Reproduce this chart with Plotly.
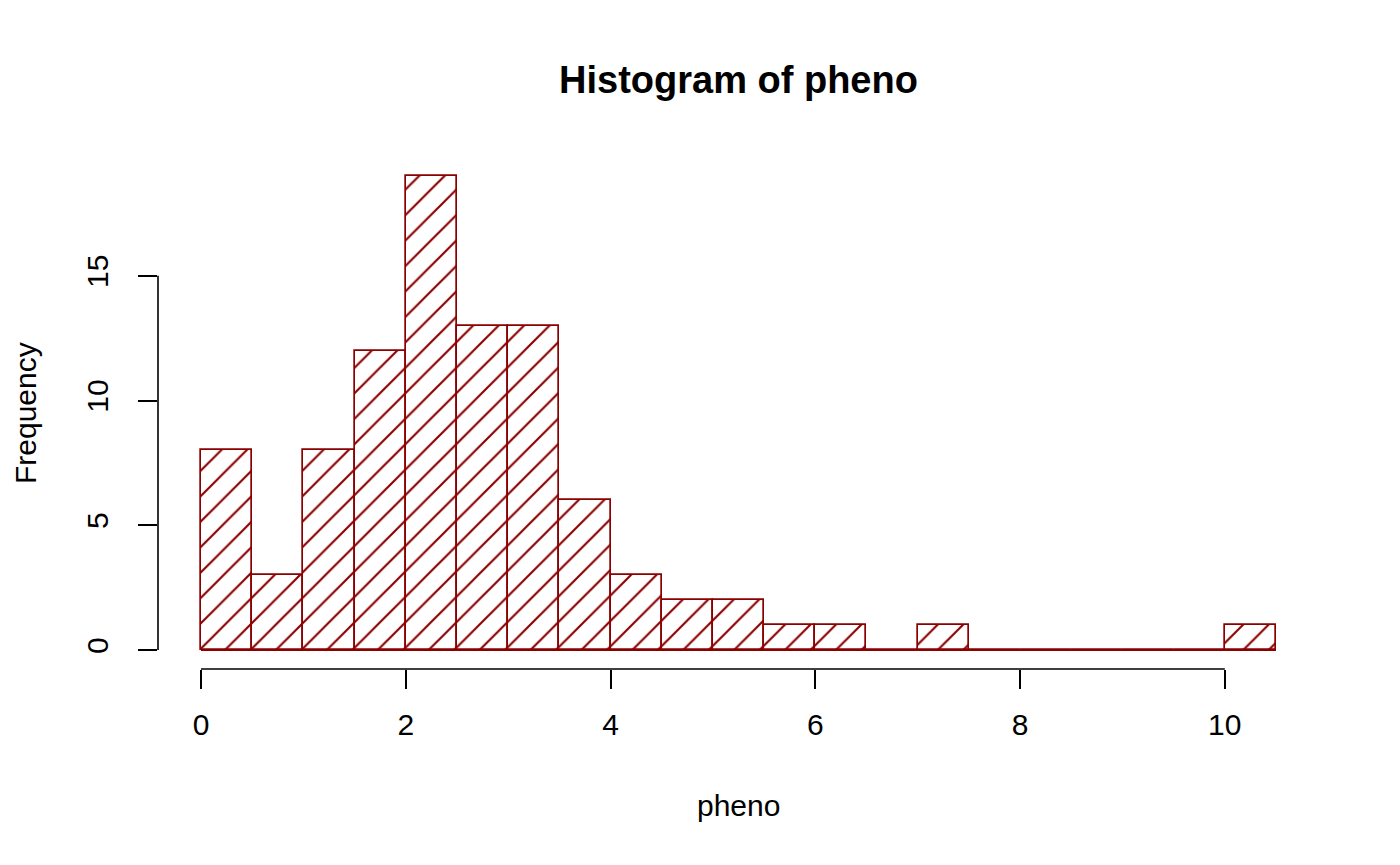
import plotly.graph_objects as go

# ---- data ----
bin_left = [0.0, 0.5, 1.0, 1.5, 2.0, 2.5, 3.0, 3.5, 4.0, 4.5, 5.0,
            5.5, 6.0, 6.5, 7.0, 7.5, 8.0, 8.5, 9.0, 9.5, 10.0]
bin_width = 0.5
counts = [8, 3, 8, 12, 19, 13, 13, 6, 3, 2, 2,
          1, 1, 0, 1, 0, 0, 0, 0, 0, 1]
x_ticks = [0, 2, 4, 6, 8, 10]
y_ticks = [0, 5, 10, 15]

title_text = "Histogram of pheno"
x_label = "pheno"
y_label = "Frequency"

RED = "#8B0000"
FONT = "Liberation Sans, Arial, Helvetica, sans-serif"

centers = [b + bin_width / 2 for b in bin_left]
x_min, x_max = bin_left[0], bin_left[-1] + bin_width
y_max = max(counts)
xpad = 0.04 * (x_max - x_min)
ypad = 0.04 * y_max

fig = go.Figure()
fig.add_trace(go.Bar(
    x=centers, y=counts, width=[bin_width] * len(counts),
    marker=dict(color="white",
                line=dict(color=RED, width=1.7),
                pattern=dict(shape="/", fgcolor=RED, bgcolor="white",
                             fgopacity=1, size=18, solidity=0.12,
                             fillmode="replace")),
    hoverinfo="x+y", showlegend=False,
))
# baseline for zero-count bins (R draws their border at 0)
fig.add_trace(go.Scatter(x=[x_min, x_max], y=[0, 0], mode="lines",
                         line=dict(color=RED, width=1.7),
                         hoverinfo="skip", showlegend=False))

fig.update_layout(
    width=1400, height=865,
    paper_bgcolor="white", plot_bgcolor="white",
    margin=dict(l=150, r=89, t=149, b=204),
    bargap=0,
    font=dict(family=FONT, size=30, color="black"),
    title=dict(text="<b>" + title_text + "</b>", x=0.5, xref="paper",
               y=1 - 72 / 865, yref="container", yanchor="middle",
               xanchor="center",
               font=dict(family=FONT, size=38, color="black")),
)
fig.update_xaxes(range=[x_min - xpad, x_max + xpad], showgrid=False,
                 zeroline=False, showline=False,
                 tickmode="array", tickvals=x_ticks,
                 ticktext=[str(t) for t in x_ticks],
                 ticks="outside", ticklen=19, tickwidth=1.6,
                 tickcolor="black", ticklabelstandoff=10,
                 tickfont=dict(family=FONT, size=30, color="black"))
fig.update_yaxes(range=[-ypad, y_max + ypad], showgrid=False,
                 zeroline=False, showline=False,
                 tickmode="array", tickvals=y_ticks,
                 ticktext=[str(t) for t in y_ticks],
                 ticks="outside", ticklen=19, tickwidth=1.6,
                 tickcolor="black", tickangle=-90, ticklabelstandoff=18,
                 tickfont=dict(family=FONT, size=30, color="black"))

# R-style axis lines spanning only the tick range
fig.add_shape(type="line", xref="x", yref="paper",
              x0=min(x_ticks), x1=max(x_ticks), y0=0, y1=0,
              line=dict(color="black", width=1.6))
fig.add_shape(type="line", xref="paper", yref="y",
              x0=0, x1=0, y0=min(y_ticks), y1=max(y_ticks),
              line=dict(color="black", width=1.6))

fig.add_annotation(text=x_label, xref="paper", yref="paper", x=0.5, y=0,
                   yanchor="middle", yshift=-136, showarrow=False,
                   font=dict(family=FONT, size=30, color="black"))
fig.add_annotation(text=y_label, xref="paper", yref="paper", x=0, y=0.5,
                   xanchor="center", xshift=-133, textangle=-90,
                   showarrow=False,
                   font=dict(family=FONT, size=30, color="black"))

fig.write_html("out.html")
